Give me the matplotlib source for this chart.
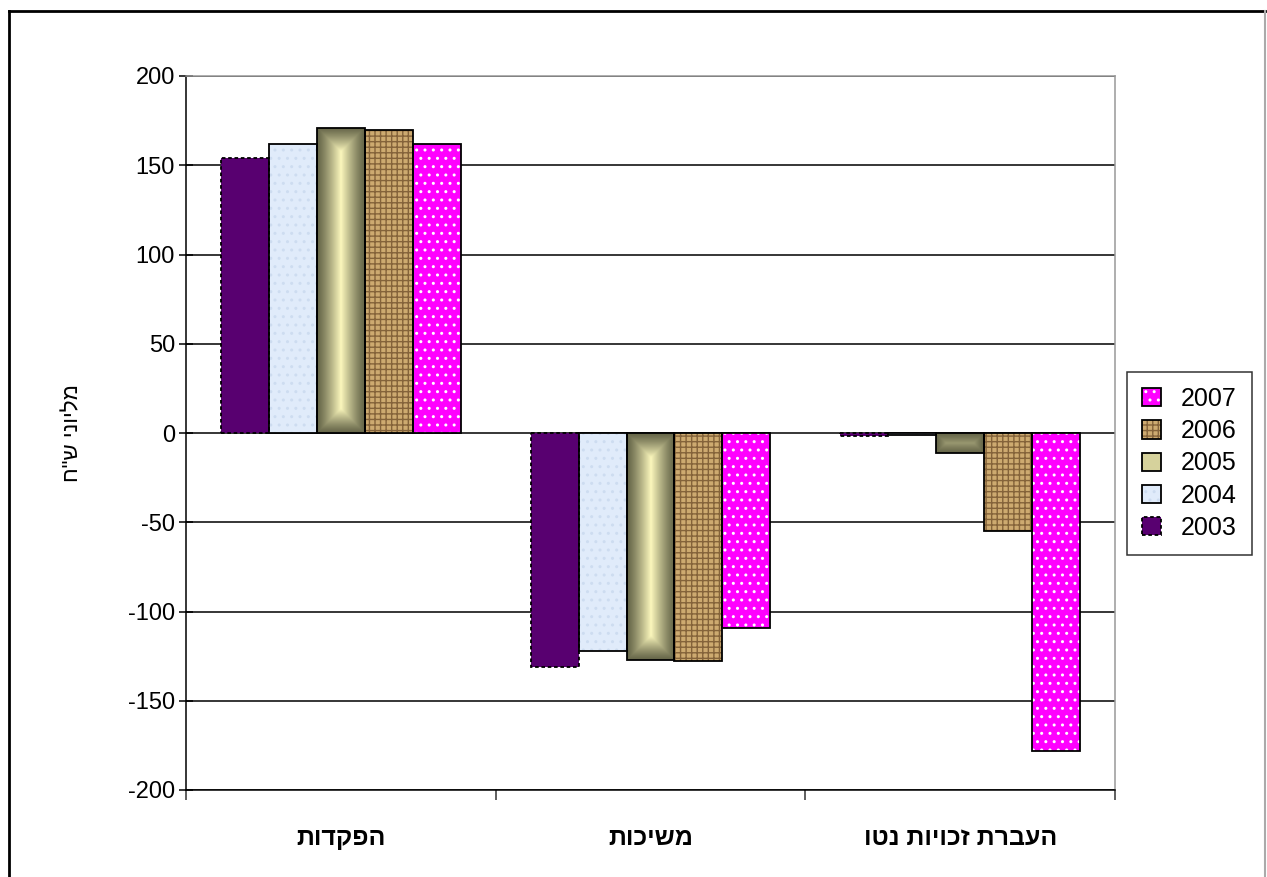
import numpy as np
import matplotlib
matplotlib.use("Agg")
import matplotlib.pyplot as plt
from matplotlib.patches import Patch
from matplotlib.lines import Line2D
from matplotlib.colors import to_rgb

plt.rcParams['font.family'] = ['Liberation Sans', 'DejaVu Sans']
plt.rcParams['axes.unicode_minus'] = False

# data
categories = ['הפקדות', 'משיכות', 'העברת זכויות נטו']
years = ['2003', '2004', '2005', '2006', '2007']
v2003 = [154, -131, -1.5]
v2004 = [162, -122, -1]
v2005 = [171, -127, -11]
v2006 = [170, -128, -55]
v2007 = [162, -109, -178]
series = [v2003, v2004, v2005, v2006, v2007]

# look of each series: face, hatch colour, hatch, outline style
styles = [
    dict(fc='#580070', hc='#4a0060', hatch='', ls=(0, (2, 1.5))),
    dict(fc='#e0ebfa', hc='#cddcf0', hatch='..', ls='-'),
    dict(fc='#d6d29c', hc='#d6d29c', hatch='', ls='-'),
    dict(fc='#cdaa70', hc='#84633a', hatch='+++', ls='-'),
    dict(fc='#ff00ff', hc='#ffffff', hatch='..', ls='-'),
]

fig = plt.figure(figsize=(12.67, 8.77), dpi=100)
ax = fig.add_axes([186/1267, 1-790/877, (1115-186)/1267, (790-76)/877])
ax.set_xlim(-0.5, 2.5)
ax.set_ylim(-200, 200)

x = np.arange(len(categories))
w = 0.155
handles = []
for k, (vals, st) in enumerate(zip(series, styles)):
    pos = x + (k - 2) * w
    fill = ax.bar(pos, vals, w, color=st['fc'], edgecolor=st['hc'],
                  hatch=st['hatch'], linewidth=0, zorder=2)
    if k == 2:
        # gradient bars (dark rim, pale yellow centre)
        dark = np.array(to_rgb('#666649'))
        light = np.array(to_rgb('#fbf7bc'))
        sx = ax.transData.transform((1, 0))[0] - ax.transData.transform((0, 0))[0]
        sy = ax.transData.transform((0, 1))[1] - ax.transData.transform((0, 0))[1]
        for p in fill.patches:
            bw = p.get_width() * sx
            bh = abs(p.get_height()) * sy
            nx = max(int(bw), 2)
            ny = max(int(bh), 2)
            xx = np.abs(np.linspace(-bw/2, bw/2, nx))
            yy = np.abs(np.linspace(-bh/2, bh/2, ny))
            dx = bw/2 - xx[None, :]
            dy = bh/2 - yy[:, None]
            d = np.minimum(dx, dy) / (bw/2)
            s = np.clip(d, 0, 1) ** 1.2
            img = dark + (light - dark) * s[..., None]
            x0 = p.get_x()
            y0 = p.get_y()
            im = ax.imshow(img, extent=(x0, x0 + p.get_width(), y0, y0 + p.get_height()),
                           aspect='auto', zorder=2.5, interpolation='bilinear')
            im.set_clip_path(p)
    ax.bar(pos, vals, w, fill=False, edgecolor='black', linewidth=1.3,
           linestyle=st['ls'], zorder=3)
    handles.append((Patch(facecolor=st['fc'], edgecolor=st['hc'], hatch=st['hatch'], linewidth=0),
                    Patch(fill=False, edgecolor='black', linewidth=1.3, linestyle=st['ls'])))

ax.set_axisbelow(True)
ax.set_yticks(np.arange(-200, 201, 50))
ax.yaxis.grid(True, color='black', linewidth=1.1)
ax.tick_params(axis='y', direction='inout', length=10, width=1.1, labelsize=17, pad=3)

ax.set_xticks(x)
ax.set_xticklabels([c[::-1] for c in categories], fontsize=18, fontweight='bold')
ax.set_xticks([-0.5, 0.5, 1.5, 2.5], minor=True)
ax.tick_params(axis='x', which='major', length=0, pad=26)
ax.tick_params(axis='x', which='minor', direction='out', length=7, width=1.1, color='#333333')

ax.spines['left'].set_color('black')
ax.spines['bottom'].set_color('black')
ax.spines['top'].set_color('#999999')
ax.spines['right'].set_color('#999999')
for s in ax.spines.values():
    s.set_linewidth(1.1)

ax.set_ylabel('מליוני ש"ח'[::-1], fontsize=16, labelpad=32)

leg = fig.legend(handles[::-1], years[::-1], loc='upper left',
                 bbox_to_anchor=(1127/1267, 1-372/877), fontsize=18,
                 frameon=True, fancybox=False, edgecolor='black',
                 handlelength=0.75, handleheight=0.75, handletextpad=0.8,
                 labelspacing=0.33, borderpad=0.6, borderaxespad=0)
leg.get_frame().set_linewidth(1.1)

# outer chart border
fig.add_artist(Line2D([9/1267, 9/1267], [0, 1-11/877], color='black', lw=2, transform=fig.transFigure))
fig.add_artist(Line2D([9/1267, 1265/1267], [1-11/877, 1-11/877], color='black', lw=2, transform=fig.transFigure))
fig.add_artist(Line2D([1265/1267, 1265/1267], [0, 1-11/877], color='#aaaaaa', lw=1.5, transform=fig.transFigure))

fig.savefig('out.png', dpi=100)
